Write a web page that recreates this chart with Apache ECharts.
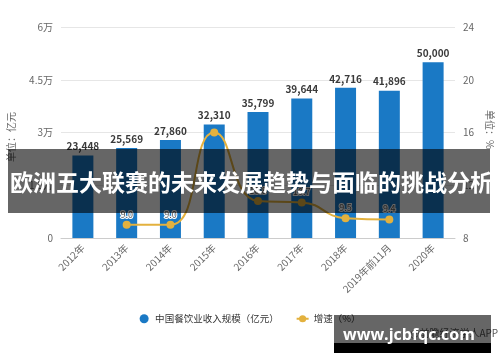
<!DOCTYPE html>
<html><head><meta charset="utf-8">
<script src="https://cdn.jsdelivr.net/npm/echarts@6/dist/echarts.min.js"></script>
<style>html,body{margin:0;padding:0;background:#fff}#c{width:500px;height:362px}</style>
</head><body><div id="c"></div>
<script>
var categories = ['2012年','2013年','2014年','2015年','2016年','2017年','2018年','2019年前11月','2020年'];
var revenue = [23448, 25569, 27860, 32310, 35799, 39644, 42716, 41896, 50000];
var growth = [null, 9.0, 9.0, 16.0, 10.8, 10.7, 9.5, 9.4, null];
var leftTicks = ['0','1.5万','3万','4.5万','6万'];
var seriesNames = ['中国餐饮业收入规模（亿元）','增速（%）'];
var bannerText = '欧洲五大联赛的未来发展趋势与面临的挑战分析';

var chart = echarts.init(document.getElementById('c'));
var F = '"Noto Sans CJK SC", "Noto Sans", sans-serif';
var growthData = growth.map(function (v, i) {
  return i === 3 ? {value: v, label: {show: false}} : v;
});
chart.setOption({
  animation: false,
  textStyle: {fontFamily: F},
  grid: {left: 61, right: 45, top: 27, bottom: 124},
  legend: {
    top: 309, left: 'center', itemWidth: 12, itemHeight: 9, itemGap: 17,
    textStyle: {fontSize: 9.5, color: '#333', fontFamily: F},
    data: [{name: seriesNames[0], icon: 'circle'}, {name: seriesNames[1]}]
  },
  xAxis: {
    type: 'category', data: categories,
    axisLine: {lineStyle: {color: '#ccc'}},
    axisTick: {alignWithLabel: true, length: 4, lineStyle: {color: '#ccc'}},
    axisLabel: {rotate: 45, fontSize: 10, color: '#666', margin: 8, interval: 0}
  },
  yAxis: [{
    type: 'value', min: 0, max: 60000, interval: 15000,
    axisLine: {show: false}, axisTick: {show: false},
    splitLine: {lineStyle: {color: '#e6e6e6'}},
    axisLabel: {fontSize: 10, color: '#666', margin: 8, formatter: function (v) { return leftTicks[Math.round(v / 15000)]; }}
  }, {
    type: 'value', min: 8, max: 24, interval: 4, position: 'right',
    axisLine: {show: false}, axisTick: {show: false}, splitLine: {show: false},
    axisLabel: {fontSize: 10, color: '#666', margin: 8}
  }],
  series: [{
    name: seriesNames[0], type: 'bar', data: revenue, barWidth: 21,
    itemStyle: {color: '#1a79c5'},
    label: {show: true, position: 'top', fontSize: 10, fontWeight: 'bold', color: '#3a3a3a', distance: 4,
      formatter: function (p) { return p.value.toLocaleString('en-US'); }}
  }, {
    name: seriesNames[1], type: 'line', yAxisIndex: 1, data: growthData, smooth: true,
    symbol: 'circle', symbolSize: 8, connectNulls: false,
    lineStyle: {color: '#e3b13e', width: 2}, itemStyle: {color: '#e3b13e'},
    label: {show: true, position: 'top', fontSize: 9, color: '#555', distance: 2,
      textBorderColor: '#fff', textBorderWidth: 2,
      formatter: function (p) { return p.value == null ? '' : Number(p.value).toFixed(1); }}
  }],
  graphic: [
    {type: 'text', left: 6, top: 112, rotation: Math.PI / 2,
      style: {text: '单位：亿元', fontSize: 10, fill: '#666', fontFamily: F}},
    {type: 'text', right: 5, top: 110, rotation: -Math.PI / 2,
      style: {text: '单位：%', fontSize: 10, fill: '#666', fontFamily: F}},
    {type: 'rect', shape: {x: 8, y: 149, width: 482, height: 64}, style: {fill: 'rgba(0,0,0,0.6)'}, z: 100},
    {type: 'text', x: 10, y: 182, z: 101,
      style: {text: bannerText, fontSize: 23, fontWeight: 'bold', fill: '#fff', fontFamily: F, textVerticalAlign: 'middle'}},
    {type: 'text', x: 410, y: 333, z: 99,
      style: {text: '@前瞻经济学人APP', fontSize: 10, fill: '#555', fontFamily: F, textVerticalAlign: 'middle'}},
    {type: 'rect', shape: {x: 334, y: 315, width: 157, height: 28}, style: {fill: 'rgba(0,0,0,0.6)'}, z: 100},
    {type: 'rect', shape: {x: 334, y: 343, width: 157, height: 10}, style: {fill: '#000'}, z: 100},
    {type: 'text', x: 343, y: 335, z: 101,
      style: {text: 'www.jcbfqc.com', fontSize: 16, fontWeight: 'bold', fill: '#fff', fontFamily: '"Open Sans", "DejaVu Sans", sans-serif', textVerticalAlign: 'middle'}}
  ]
});
</script></body></html>
